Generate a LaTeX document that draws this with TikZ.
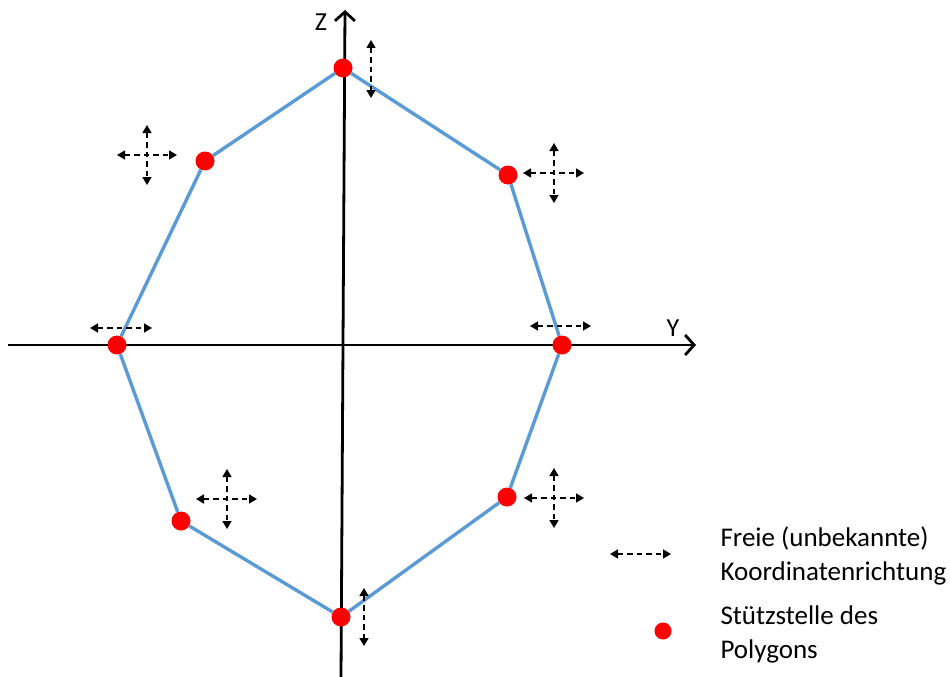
\documentclass[tikz,border=0pt]{standalone}
\usepackage{fontspec}
\setmainfont{Carlito}
\usetikzlibrary{arrows.meta}
\definecolor{polyblau}{RGB}{91,155,213}

\tikzset{
  achse/.style={line width=2.8pt,-{Straight Barb[length=9pt,width=20pt,line width=2.8pt]}},
  poly/.style={polyblau,line width=3.4pt},
  stuetz/.style={circle,fill=red,inner sep=0pt,minimum size=19pt},
  frei/.style={{Triangle[length=8pt,width=9pt]}-{Triangle[length=8pt,width=9pt]},dash pattern=on 5.5pt off 4pt,line width=1.5pt},
  legtext/.style={anchor=west,align=left,font=\fontsize{27}{34}\selectfont}
}

\begin{document}
\begin{tikzpicture}[x=1pt,y=-1pt]
      \useasboundingbox (0,0) rectangle (950,677);
      % Achsen
      \coordinate (zunten) at (341,677);
      \coordinate (zoben) at (345,10);
      \coordinate (ylinks) at (8,345);
      \coordinate (yrechts) at (696,345);
      \draw[achse] (zunten) -- (zoben);
      \draw[achse] (ylinks) -- (yrechts);
      \node[font=\fontsize{26}{30}\selectfont] (zlabel) at (321,22) {Z};
      \node[font=\fontsize{26}{30}\selectfont] (ylabel) at (673,328) {Y};
      % Stuetzstellen
      \node[stuetz] (p1) at (343,68) {};
      \node[stuetz] (p2) at (508,175) {};
      \node[stuetz] (p3) at (562,345) {};
      \node[stuetz] (p4) at (507,497) {};
      \node[stuetz] (p5) at (341,617) {};
      \node[stuetz] (p6) at (181,521) {};
      \node[stuetz] (p7) at (117,345) {};
      \node[stuetz] (p8) at (205,161) {};
      \draw[poly] (p1) -- (p2) -- (p3) -- (p4) -- (p5) -- (p6) -- (p7) -- (p8) -- (p1);
      % freie Richtungen
      \draw[frei] (371,40) -- (371,98);
      \draw[frei] (117,155) -- (177,155);
      \draw[frei] (147,125) -- (147,185);
      \draw[frei] (523,173) -- (584,173);
      \draw[frei] (554,143) -- (554,203);
      \draw[frei] (530,326) -- (591,326);
      \draw[frei] (90,328) -- (152,328);
      \draw[frei] (524,498) -- (584,498);
      \draw[frei] (554,468) -- (554,528);
      \draw[frei] (196,499) -- (257,499);
      \draw[frei] (227,469) -- (227,529);
      \draw[frei] (364,588) -- (364,646);
      % Legende
      \draw[frei] (610,554) -- (671,554);
      \node[legtext] (legfrei) at (717,556) {Freie (unbekannte)\\Koordinatenrichtung};
      \node[stuetz,minimum size=17pt] (legpunkt) at (663,631) {};
      \node[legtext] (legstuetz) at (717,634) {Stützstelle des\\Polygons};
    \end{tikzpicture}
\end{document}
